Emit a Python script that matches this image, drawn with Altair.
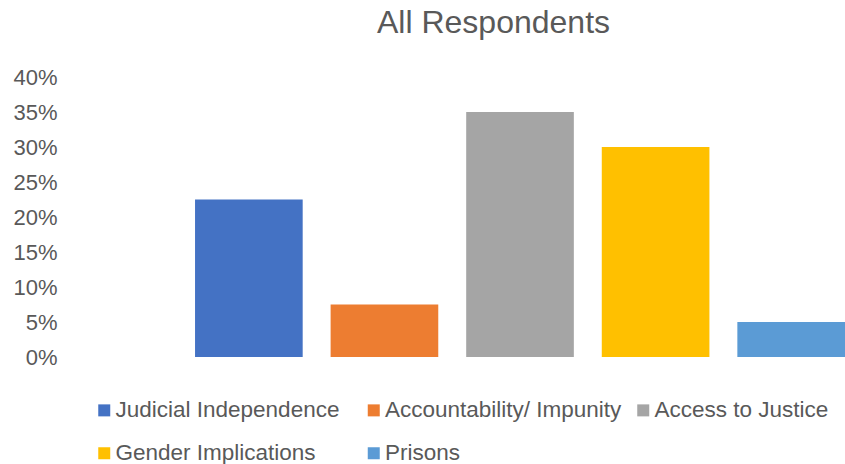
import altair as alt
import pandas as pd

categories = ["Judicial Independence", "Accountability/ Impunity", "Access to Justice",
              "Gender Implications", "Prisons"]
values = [0.225, 0.075, 0.35, 0.30, 0.05]
colors = ["#4472C4", "#ED7D31", "#A5A5A5", "#FFC000", "#5B9BD5"]
y_ticks = [0, 0.05, 0.10, 0.15, 0.20, 0.25, 0.30, 0.35, 0.40]

df = pd.DataFrame({"category": categories, "value": values})

FONT = "Liberation Sans"
TXT = "#595959"

chart = alt.Chart(df).mark_bar().encode(
    x=alt.X("category:N", sort=categories, axis=None,
            scale=alt.Scale(paddingInner=0.206, paddingOuter=0.498, align=1)),
    y=alt.Y("value:Q", scale=alt.Scale(domain=[0, 0.4]),
            axis=alt.Axis(values=y_ticks, format=".0%", grid=False, domain=False, ticks=False,
                          labelFontSize=22, labelColor=TXT, labelFont=FONT, labelPadding=3,
                          title=None)),
    color=alt.Color("category:N", sort=categories,
                    scale=alt.Scale(domain=categories, range=colors),
                    legend=alt.Legend(orient="none", legendX=33, legendY=322, columns=3,
                                      direction="horizontal", padding=0,
                                      gridAlign="all", symbolType="square", symbolSize=144,
                                      symbolStrokeWidth=0, labelFontSize=22.5, labelColor=TXT,
                                      labelFont=FONT, labelLimit=0, labelOffset=0,
                                      columnPadding=10.5, rowPadding=20, title=None)),
).properties(
    width=785,
    height=280,
    title=alt.TitleParams("All Respondents", fontSize=32, font=FONT, color=TXT,
                          fontWeight="normal", anchor="middle", dx=41, offset=26, frame="group"),
    autosize=alt.AutoSizeParams(type="none"),
    padding={"left": 60, "top": 77, "right": 0, "bottom": 107},
).configure_view(stroke=None)

chart.save("out.html", embed_options={"renderer": "svg", "actions": False})
